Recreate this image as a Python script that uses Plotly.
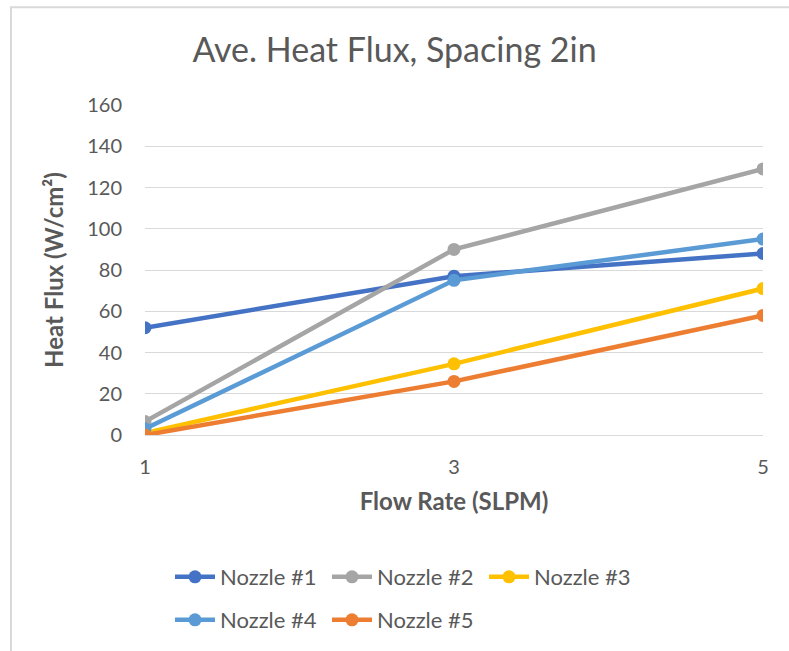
import plotly.graph_objects as go

flow_rate = [1, 3, 5]
nozzle_1 = [52, 77, 88]
nozzle_2 = [6.5, 90, 129]
nozzle_3 = [1, 34.5, 71]
nozzle_4 = [3, 75, 95]
nozzle_5 = [0, 26, 58]
names = ["Nozzle #1", "Nozzle #2", "Nozzle #3", "Nozzle #4", "Nozzle #5"]
series = [nozzle_1, nozzle_2, nozzle_3, nozzle_4, nozzle_5]
colors = ["#4472C4", "#A5A5A5", "#FFC000", "#5B9BD5", "#ED7D31"]
legends = ["legend", "legend", "legend", "legend2", "legend2"]

W, H = 789, 651
L, R, T, B = 145, 26, 105, 215
pw, ph = W - L - R, H - T - B

fig = go.Figure()
for name, vals, c, lg in zip(names, series, colors, legends):
    fig.add_trace(go.Scatter(
        x=flow_rate, y=vals, name=name, mode="lines+markers",
        line=dict(color=c, width=4.5),
        marker=dict(color=c, size=13),
        legend=lg,
    ))

font_family = "Lato, 'Open Sans', sans-serif"
grey = "#595959"

def px(x):
    return (x - L) / pw

def py(y):
    return (H - B - y) / ph

legend_style = dict(orientation="h", xanchor="left", yanchor="middle",
                    font=dict(size=22, color=grey), itemwidth=40,
                    entrywidth=102, tracegroupgap=0, bgcolor="rgba(0,0,0,0)")

fig.update_layout(
    width=W, height=H,
    margin=dict(l=L, r=R, t=T, b=B),
    paper_bgcolor="white", plot_bgcolor="white",
    font=dict(family=font_family, color=grey, size=20),
    title=dict(text="Ave. Heat Flux, Spacing 2in", x=0.5, xanchor="center",
               y=1 - 50 / H, yanchor="middle",
               font=dict(size=34, color=grey, family=font_family)),
    xaxis=dict(range=[1, 5], tickvals=flow_rate, ticktext=[str(v) for v in flow_rate],
               showgrid=False, zeroline=False, showline=False,
               ticks="", ticklabelstandoff=18,
               title=dict(text="<b>Flow Rate (SLPM)</b>", standoff=16,
                          font=dict(size=24, color=grey))),
    yaxis=dict(range=[0, 160], dtick=20, showgrid=True, gridcolor="#D9D9D9",
               gridwidth=1.3, zeroline=True, zerolinecolor="#D9D9D9", zerolinewidth=1.3,
               showline=False, ticks="", ticklabelstandoff=22,
               title=dict(text="<b>Heat Flux (W/cm²)</b>", standoff=16,
                          font=dict(size=24, color=grey))),
    legend=dict(x=px(170), y=py(577), **legend_style),
    legend2=dict(x=px(170), y=py(620), **legend_style),
    shapes=[dict(type="rect", xref="paper", yref="paper",
                 x0=px(11), x1=px(W + 50), y0=py(H + 50), y1=py(7),
                 line=dict(color="#D9D9D9", width=2), fillcolor="rgba(0,0,0,0)",
                 layer="below")],
)

fig.write_html(
    "out.html",
    config={"displayModeBar": False},
    post_script=("document.body.style.margin='0';document.body.style.overflow='hidden';"
                 "document.documentElement.style.overflow='hidden';"),
)
